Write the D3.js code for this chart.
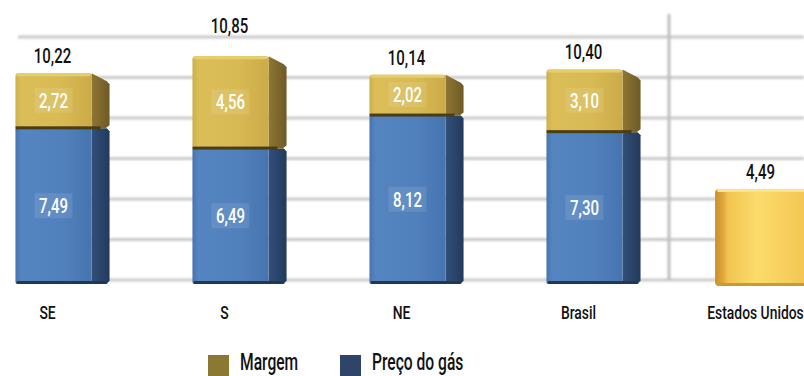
<!DOCTYPE html>
<html>
<head>
<meta charset="utf-8">
<script src="https://cdn.jsdelivr.net/npm/d3@7"></script>
<style>
  html, body { margin: 0; padding: 0; background: #fff; }
  svg { display: block; }
  text { font-family: Roboto, "DejaVu Sans Condensed", sans-serif; font-weight: 500; }
</style>
</head>
<body>
<svg id="chart" width="804" height="376"></svg>
<script>
// Gas price composition by region (US$/MMBtu)
const categories = ["SE", "S", "NE", "Brasil", "Estados Unidos"];
const precoGas = [7.49, 6.49, 8.12, 7.30, null];
const margem   = [2.72, 4.56, 2.02, 3.10, null];
const totals   = [10.22, 10.85, 10.14, 10.40, 4.49];
const gridTicks = [0, 2, 4, 6, 8, 10, 12];
const legendItems = ["Margem", "Preço do gás"];

const fmt = v => d3.format(".2f")(v).replace(".", ",");

const svg = d3.select("#chart");
const W = 804, H = 376;

const x = d3.scaleBand()
  .domain(categories)
  .range([-35, 850])
  .paddingInner(0.57)
  .paddingOuter(0.285);

const y = d3.scaleLinear().domain([0, 12]).range([280, 37]);

// narrow type: glyphs squeezed horizontally around their anchor
function narrowText(parent, tx, ty, str, size, fill, anchor, sx) {
  const g = parent.append("g").attr("transform", `translate(${tx},${ty}) scale(${sx},1)`);
  g.append("text").attr("x", 0).attr("y", 0)
    .attr("text-anchor", anchor || "middle")
    .attr("font-size", size).attr("fill", fill).text(str);
  return g;
}

// gradients
const defs = svg.append("defs");
function hGrad(id, stops) {
  const g = defs.append("linearGradient").attr("id", id)
    .attr("x1", "0%").attr("x2", "100%").attr("y1", "0%").attr("y2", "0%");
  stops.forEach(([o, c]) => g.append("stop").attr("offset", o).attr("stop-color", c));
}
hGrad("blueFront", [["0%", "#4674ad"], ["8%", "#5585c1"], ["60%", "#5181bd"], ["100%", "#4674ae"]]);
hGrad("blueSide", [["0%", "#324f7a"], ["100%", "#233a5c"]]);
hGrad("goldFront", [["0%", "#cdb04b"], ["8%", "#dcbe58"], ["60%", "#d8ba54"], ["100%", "#cbab47"]]);
hGrad("goldSide", [["0%", "#8e7634"], ["100%", "#6e5a24"]]);
hGrad("usFront", [["0%", "#c98e2c"], ["9%", "#e2a93c"], ["14%", "#f2c450"], ["45%", "#fbdc6c"], ["100%", "#f3c552"]]);
const blur = defs.append("filter").attr("id", "soft").attr("x", "-5%").attr("y", "-50%").attr("width", "110%").attr("height", "200%");
blur.append("feGaussianBlur").attr("stdDeviation", 0.8);

// grid
const grid = svg.append("g").attr("filter", "url(#soft)");
grid.selectAll("line.h").data(gridTicks).join("line")
  .attr("class", "h")
  .attr("x1", 18).attr("x2", W)
  .attr("y1", d => y(d)).attr("y2", d => y(d))
  .attr("stroke", "#cacaca").attr("stroke-width", 3);

// separator between Brazil and the US
const sepX = (x("Brasil") + x.bandwidth() + x("Estados Unidos")) / 2 - 4;
grid.append("line")
  .attr("x1", sepX).attr("x2", sepX)
  .attr("y1", 14).attr("y2", y(0))
  .attr("stroke", "#c0c0c0").attr("stroke-width", 3);

// stacked data for the Brazilian regions
const rows = categories.map((c, i) => ({ cat: c, gas: precoGas[i], margem: margem[i], total: totals[i] }));
const brRows = rows.filter(r => r.gas != null);
const stack = d3.stack().keys(["gas", "margem"])(brRows);

const depth = 18, slant = 8, baseDrop = 4;
const bars = svg.append("g");

stack.forEach(layer => {
  const key = layer.key;
  layer.forEach(seg => {
    const d = seg.data;
    const x0 = x(d.cat), x1 = x0 + x.bandwidth();
    const top = y(seg[1]);
    const bot = key === "gas" ? y(seg[0]) + baseDrop : y(seg[0]);
    const g = bars.append("g");
    // side face
    const sTop = key === "margem" ? top + slant : top;
    g.append("path")
      .attr("d", `M${x1},${top} L${x1 + depth * 0.85},${sTop} L${x1 + depth},${sTop + 3} L${x1 + depth},${bot - 3} L${x1 + depth - 4},${bot} L${x1},${bot} Z`)
      .attr("fill", key === "gas" ? "url(#blueSide)" : "url(#goldSide)");
    // front face
    g.append("rect")
      .attr("x", x0).attr("y", top)
      .attr("width", x.bandwidth()).attr("height", bot - top)
      .attr("rx", key === "gas" ? 2 : 3)
      .attr("fill", key === "gas" ? "url(#blueFront)" : "url(#goldFront)");
    if (key === "gas") {
      g.append("rect").attr("x", x0 + 1).attr("y", bot - 3).attr("width", x.bandwidth() + depth - 3).attr("height", 3)
        .attr("rx", 1.5).attr("fill", "#223756");
    } else {
      g.append("rect").attr("x", x0).attr("y", bot - 2).attr("width", x.bandwidth() + depth * 0.5).attr("height", 3)
        .attr("fill", "#4a3c14");
      g.append("rect").attr("x", x0 + 1).attr("y", top).attr("width", x.bandwidth() - 2).attr("height", 3)
        .attr("rx", 1.5).attr("fill", "#e8cd6c");
    }
    // value label on a faint plate
    const cy = (top + bot) / 2;
    const txt = fmt(key === "gas" ? d.gas : d.margem);
    g.append("rect")
      .attr("x", x0 + x.bandwidth() / 2 - 19).attr("y", cy - 13)
      .attr("width", 38).attr("height", 25)
      .attr("fill", "#ffffff").attr("opacity", 0.1);
    narrowText(g, x0 + x.bandwidth() / 2, cy + 7, txt, 20, "#ffffff", "middle", 0.75);
  });
});

// United States single bar
rows.filter(r => r.gas == null).forEach(r => {
  const w = x.bandwidth() * 1.22;
  const x0 = x(r.cat) + x.bandwidth() / 2 - w / 2;
  const top = y(r.total), bot = y(0) + baseDrop + 2;
  bars.append("rect")
    .attr("x", x0).attr("y", top).attr("width", w).attr("height", bot - top)
    .attr("rx", 4).attr("fill", "url(#usFront)");
  bars.append("rect")
    .attr("x", x0 + 2).attr("y", top).attr("width", w - 4).attr("height", 3)
    .attr("rx", 1.5).attr("fill", "#fbe48c");
  bars.append("rect")
    .attr("x", x0 + 2).attr("y", bot - 3).attr("width", w - 4).attr("height", 3)
    .attr("rx", 1.5).attr("fill", "#c99a35");
});

// total labels, nudged clear of the gridlines
const labels = svg.append("g");
rows.forEach(r => {
  const topVal = r.gas != null ? r.gas + r.margem : r.total;
  let base = y(topVal) - 10;
  gridTicks.forEach(t => {
    const gy = y(t);
    if (base - 15 < gy + 2 && base > gy - 2) base = gy - 4;
  });
  narrowText(labels, x(r.cat) + x.bandwidth() / 2 - 1, base, fmt(r.total), 20, "#111", "middle", 0.75);
});

// category axis
const axis = svg.append("g").attr("transform", `translate(-6,${y(0)})`)
  .call(d3.axisBottom(x).tickSize(0).tickPadding(26));
axis.select(".domain").remove();
axis.selectAll(".tick text")
  .attr("font-size", 19).attr("fill", "#111")
  .attr("transform", "scale(0.73,1)")
  .style("font-family", "Roboto, sans-serif").style("font-weight", 500);

// legend
const legendColors = ["#8b7833", "#2f4469"];
const legendX = [208, 340];
const legend = svg.append("g");
legendItems.forEach((name, i) => {
  legend.append("rect").attr("x", legendX[i]).attr("y", 355).attr("width", 21).attr("height", 21)
    .attr("fill", legendColors[i]);
  narrowText(legend, legendX[i] + 32, 370, name, 24, "#111", "start", 0.65);
});
</script>
</body>
</html>
